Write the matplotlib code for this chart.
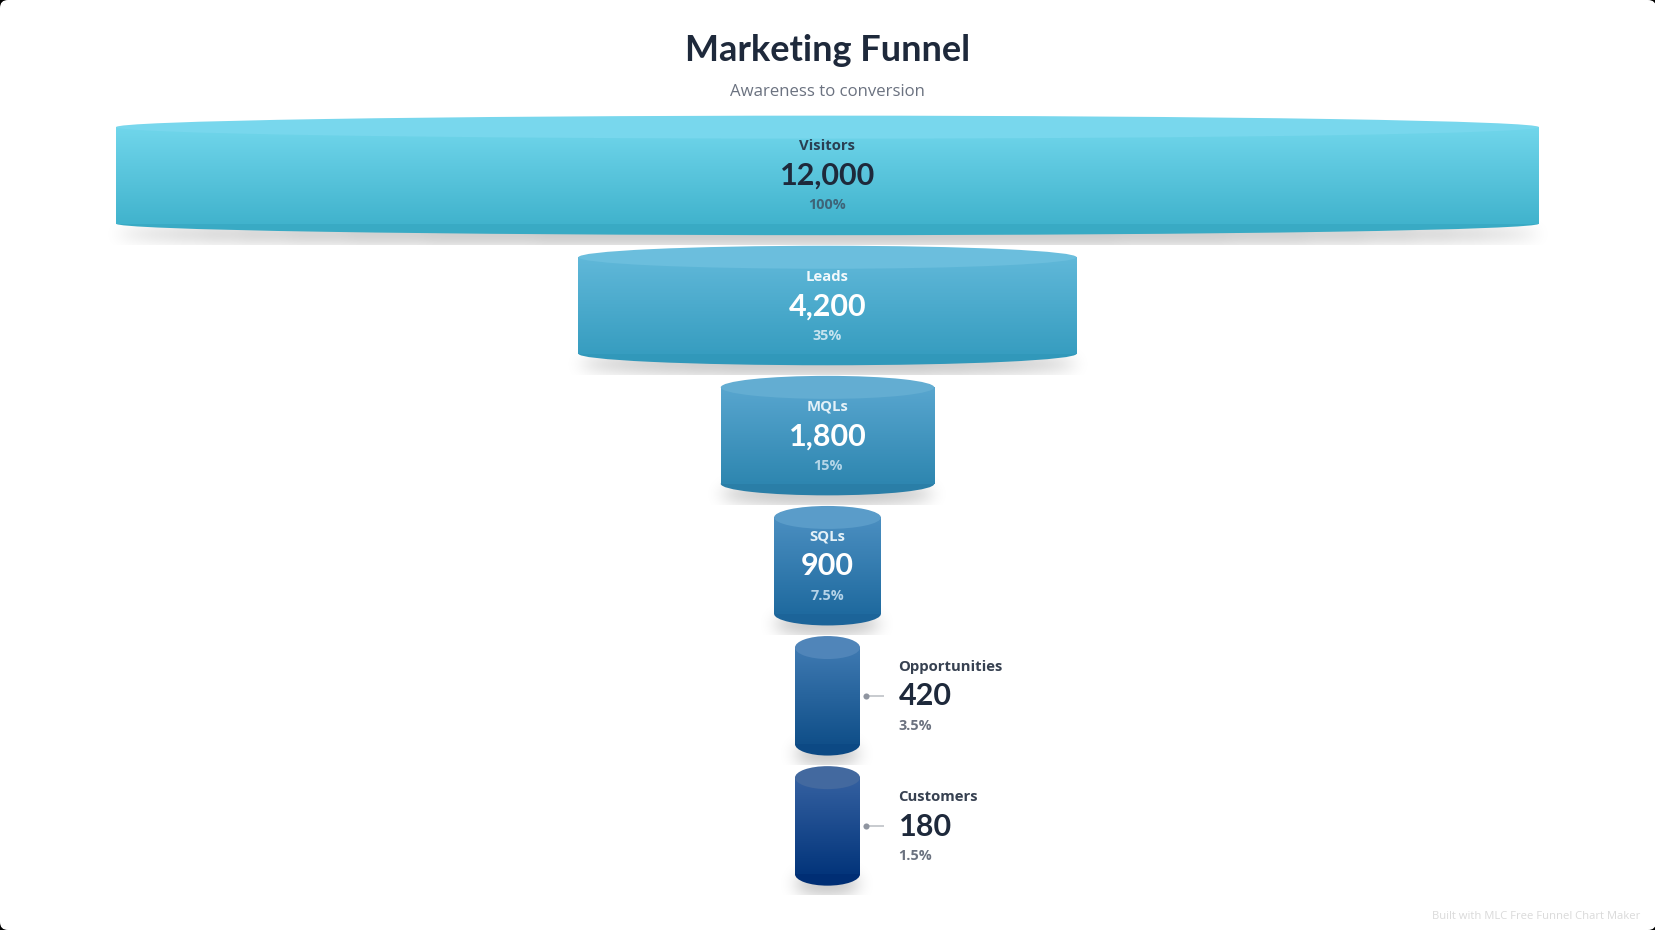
import numpy as np
import matplotlib
matplotlib.use("Agg")
import matplotlib.pyplot as plt
from matplotlib.patches import Ellipse, FancyBboxPatch
from matplotlib.colors import to_rgb

# ---- data ----
stages = ["Visitors", "Leads", "MQLs", "SQLs", "Opportunities", "Customers"]
values = [12000, 4200, 1800, 900, 420, 180]
value_labels = ["12,000", "4,200", "1,800", "900", "420", "180"]
pct_labels = ["100%", "35%", "15%", "7.5%", "3.5%", "1.5%"]
title = "Marketing Funnel"
subtitle = "Awareness to conversion"
footer = "Built with MLC Free Funnel Chart Maker"

# ---- colours (top ellipse, gradient start, gradient end, bottom rim) ----
top_colors = ["#78D7ED", "#6BBEDD", "#63ADD2", "#5A9CC9", "#5085B9", "#43699F"]
grad_start = ["#70D6EB", "#60B8D9", "#58A6CF", "#4B8FC1", "#3F7AB2", "#3561A1"]
grad_end = ["#41B3CD", "#379DC0", "#2E86B0", "#1F6A9F", "#104F89", "#03357B"]
rim_colors = ["#39AAC4", "#3198BA", "#2A7EA7", "#1C6499", "#0C4984", "#002E74"]
name_colors = ["#2A3F52", "#F2F9FC", "#E4F1F8", "#E4F1F8", "#374151", "#374151"]
value_colors = ["#1E293B", "#FFFFFF", "#FFFFFF", "#FFFFFF", "#1E293B", "#1E293B"]
pct_colors = ["#3E6478", "#C6E3EF", "#B5D6E8", "#B5D3E8", "#6B7280", "#6B7280"]

W, H = 1656, 930
CX, FULL_W = 827.5, 1423.0
Y0, PITCH, BAND_H, RY = 175.4, 130.1, 119.5, 11.5
MIN_W = 65.0
INSIDE_MIN_W = 100.0
PX_PER_VALUE = FULL_W / max(values)

plt.rcParams["font.family"] = ["Lato", "DejaVu Sans"]
fig = plt.figure(figsize=(W / 100, H / 100), dpi=100, facecolor="#000000")
card = FancyBboxPatch((0, 0), W, H, boxstyle="round,pad=0,rounding_size=8",
                      fc="white", ec="none", transform=None, zorder=-1)
fig.add_artist(card)
ax = fig.add_axes([0, 0, 1, 1])
ax.set_axis_off()
ax.patch.set_visible(False)

# x axis is in value units (centred), y axis in stage units
XLIM = (-CX / PX_PER_VALUE, (W - CX) / PX_PER_VALUE)
YLIM = ((H - Y0) / PITCH, -Y0 / PITCH)
dx = 1 / PX_PER_VALUE
dy = 1 / PITCH


def gauss_kernel(sigma):
    r = int(sigma * 3)
    k = np.exp(-0.5 * (np.arange(-r, r + 1) / sigma) ** 2)
    return k / k.sum()


def shadow_image(half_w_px):
    """Soft shadow of the bottom ellipse, clipped just below the band."""
    sigma, off, strength = 8.0, 10.0, 0.24
    pad = 32
    half = int(half_w_px + pad)
    ybot = BAND_H / 2 - RY
    clip = BAND_H / 2 + 9
    rows = np.arange(ybot - 2 * pad, clip + 3 * pad) + 0.5
    cols = np.arange(-half, half) + 0.5
    xx, yy = np.meshgrid(cols, rows)
    m = (((xx / half_w_px) ** 2 + ((yy - off - ybot) / RY) ** 2) <= 1).astype(float)
    k = gauss_kernel(sigma)
    m = np.apply_along_axis(lambda a: np.convolve(a, k, mode="same"), 0, m)
    m = np.apply_along_axis(lambda a: np.convolve(a, k, mode="same"), 1, m)
    keep = rows <= clip
    m = m[keep]
    rgba = np.zeros(m.shape + (4,))
    rgba[..., 3] = m * strength
    return rgba, rows[keep][0] - 0.5, rows[keep][-1] + 0.5, half


for i, (name, val) in enumerate(zip(stages, values)):
    w_px = max(val * PX_PER_VALUE, MIN_W)
    half_v = w_px / 2 * dx
    ry = RY * dy
    half_h = BAND_H / 2 * dy
    top_c = i - half_h + ry
    bot_c = i + half_h - ry

    # shadow
    rgba, r0, r1, half = shadow_image(w_px / 2)
    ax.imshow(rgba, extent=(-half * dx, half * dx, i + r1 * dy, i + r0 * dy),
              aspect="auto", interpolation="bilinear", zorder=1)

    # bottom rim, body gradient, top ellipse
    ax.add_patch(Ellipse((0, bot_c), 2 * half_v, 2 * ry, fc=rim_colors[i], ec="none", zorder=2))
    c0, c1 = np.array(to_rgb(grad_start[i])), np.array(to_rgb(grad_end[i]))
    t = np.linspace(0, 1, 128)[:, None, None]
    grad = (1 - t) * c0[None, None, :] + t * c1[None, None, :]
    ax.imshow(grad, extent=(-half_v, half_v, bot_c, top_c), aspect="auto",
              interpolation="bilinear", zorder=3)
    ax.add_patch(Ellipse((0, top_c), 2 * half_v, 2 * ry, fc=top_colors[i], ec="none", zorder=4))

    # labels
    if w_px >= INSIDE_MIN_W:
        ptx, ptx_n, ha = 0, 0, "center"
    else:
        ptx, ptx_n, ha = 71.5 * 0.72, 70.5 * 0.72, "left"
        x0 = (866.0 - CX) * dx
        x1 = (884.5 - CX) * dx
        ax.plot([x0, x1], [i, i], color="#C4C7CC", lw=1.3, zorder=5, solid_capstyle="butt")
        ax.plot([x0], [i], marker="o", ms=4.4, mfc="#8F95A0", mec="none", zorder=6)
    pos = (0, i)
    ax.annotate(name, pos, xytext=(ptx_n, 29.0 * 0.72), textcoords="offset points", ha=ha, va="center",
                fontsize=10.75, fontfamily=["Open Sans", "DejaVu Sans"], fontweight="bold",
                color=name_colors[i], zorder=7)
    ax.annotate(value_labels[i], pos, xytext=(ptx, -0.6 * 0.72), textcoords="offset points", ha=ha, va="center",
                fontsize=22, fontweight="bold", color=value_colors[i], zorder=7)
    ax.annotate(pct_labels[i], pos, xytext=(ptx_n, -30.0 * 0.72), textcoords="offset points", ha=ha, va="center",
                fontsize=10.4, fontfamily=["Open Sans", "DejaVu Sans"], fontweight="bold",
                color=pct_colors[i], zorder=7)

ax.set_xlim(*XLIM)
ax.set_ylim(*YLIM)

# figure-level text
fig.text(CX / W, 1 - 50.5 / H, title, ha="center", va="center", fontsize=26, fontweight="bold", color="#1E293B")
fig.text(CX / W, 1 - 92 / H, subtitle, ha="center", va="center", fontsize=12.1,
         fontfamily=["Open Sans", "DejaVu Sans"], color="#6B7280")
fig.text(1640 / W, 1 - 916.5 / H, footer, ha="right", va="center", fontsize=8.15,
         fontfamily=["Open Sans", "DejaVu Sans"], color="#DADADA")

fig.savefig("out.png", dpi=100, facecolor=fig.get_facecolor())
